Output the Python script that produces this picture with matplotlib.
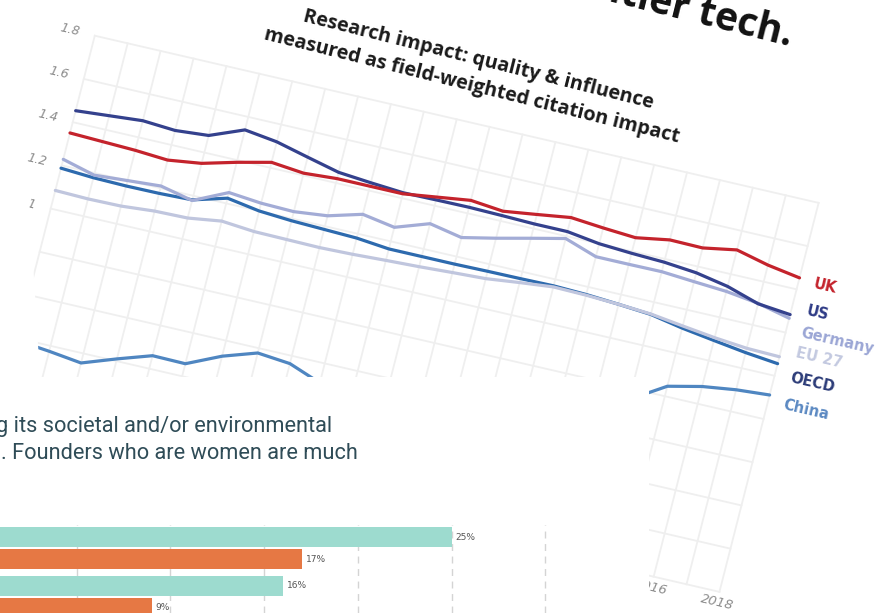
import matplotlib
matplotlib.use("Agg")
import matplotlib.pyplot as plt
import numpy as np
from matplotlib.transforms import Affine2D, IdentityTransform
from matplotlib.patches import Polygon

W, H = 884, 613

# research impact, field-weighted citation impact
years = list(range(1996, 2019))
uk = [1.35, 1.345, 1.34, 1.33, 1.35, 1.39, 1.425, 1.41, 1.42, 1.42, 1.42, 1.44,
      1.46, 1.445, 1.465, 1.486, 1.473, 1.463, 1.488, 1.486, 1.512, 1.477, 1.453]
us = [1.453, 1.465, 1.477, 1.467, 1.479, 1.54, 1.52, 1.484, 1.449, 1.436, 1.425, 1.427,
      1.428, 1.425, 1.421, 1.421, 1.40, 1.391, 1.385, 1.371, 1.343, 1.298, 1.283]
germany = [1.228, 1.19, 1.20, 1.21, 1.178, 1.25, 1.236, 1.232, 1.248, 1.29, 1.265, 1.317,
           1.288, 1.32, 1.355, 1.389, 1.34, 1.34, 1.341, 1.33, 1.32, 1.30, 1.266]
eu27 = [1.084, 1.08, 1.082, 1.094, 1.097, 1.118, 1.105, 1.103, 1.101, 1.105, 1.112, 1.118,
        1.126, 1.133, 1.15, 1.165, 1.162, 1.155, 1.145, 1.125, 1.106, 1.092, 1.088]
oecd = [1.187, 1.178, 1.175, 1.176, 1.181, 1.224, 1.20, 1.19, 1.185, 1.18, 1.165, 1.165,
        1.165, 1.167, 1.168, 1.17, 1.165, 1.155, 1.143, 1.115, 1.093, 1.072, 1.056]
china = [0.39, 0.375, 0.356, 0.41, 0.46, 0.458, 0.528, 0.578, 0.564, 0.51, 0.53, 0.555,
         0.58, 0.61, 0.64, 0.67, 0.70, 0.73, 0.75, 0.846, 0.88, 0.90, 0.911]

names = ["China", "OECD", "EU 27", "Germany", "US", "UK"]
values = [china, oecd, eu27, germany, us, uk]
line_colors = ["#4f86c1", "#2d6aae", "#c0c6de", "#a3acd6", "#34418d", "#c4232c"]
label_colors = ["#5b89c2", "#2c3c78", "#c3c9e0", "#9ba6d5", "#2e3b86", "#c4232c"]
label_vals = [0.882, 1.008, 1.122, 1.215, 1.316, 1.44]

grid_vals = [0, 0.2, 0.4, 0.6, 0.8, 1.0, 1.2, 1.4, 1.6, 1.8]
# only these tick labels are visible in the photo
y_label_vals = [1.0, 1.2, 1.4, 1.6, 1.8]
y_label_text = ["1", "1.2", "1.4", "1.6", "1.8"]
x_label_years = [2016, 2018]

# founders bar chart (only partly visible)
bar_rows = ["row 1", "row 2"]
teal_pct = [25, 16]
orange_pct = [17, 9]
grid_pct = [5, 10, 15, 20, 25, 30]

fig = plt.figure(figsize=(W / 100, H / 100), dpi=100)

# line chart, drawn skewed like the photographed slide
ax = fig.add_axes([0, 0, 1, 1])
ax.axis("off")
sx, sy = 33.77, 223.0          # px per year / px per unit
M = np.array([[0.9743, 0.2471, 50.7],
              [-0.2250, 0.9691, H - 208.6],
              [0, 0, 1]])
tr = ax.transData + Affine2D(M)

grid_c = "#efefef"
for v in grid_vals:
    ax.plot([years[0], years[-1]], [v, v], color=grid_c, lw=1.3, transform=tr, zorder=1)
for yr in years:
    ax.plot([yr, yr], [grid_vals[0], grid_vals[-1]], color=grid_c, lw=1.3, transform=tr, zorder=1)

for v, t in zip(y_label_vals, y_label_text):
    ax.text(years[0] - 0.47, v, t, transform=tr, ha="right", va="center",
            rotation=-13, rotation_mode="anchor", fontsize=9, color="#8c8c8c",
            style="italic", zorder=2)
for yr in x_label_years:
    ax.text(yr, -0.05, str(yr), transform=tr, ha="center", va="center",
            rotation=-13, rotation_mode="anchor", fontsize=9.5, color="#8c8c8c",
            style="italic", zorder=2)

for name, vals, c, lc, lv in zip(names, values, line_colors, label_colors, label_vals):
    ax.plot(years, vals, color=c, lw=2.3, transform=tr, zorder=3,
            solid_capstyle="round", solid_joinstyle="round")
    ax.text(years[-1] + 0.45, lv, name, transform=tr, ha="left", va="center",
            rotation=-13, rotation_mode="anchor", fontsize=10.5,
            fontweight="bold", color=lc, zorder=4)

ax.text(475, H - 73, "Research impact: quality & influence\nmeasured as field-weighted citation impact",
        transform=IdentityTransform(), ha="center", va="center", multialignment="center",
        rotation=-14, rotation_mode="anchor", fontsize=14.2, fontweight="bold",
        family=["Open Sans", "DejaVu Sans"], color="#1a1a1a", linespacing=1.45, zorder=4)
ax.text(790, H - 46, "frontier tech.", transform=IdentityTransform(), ha="right",
        va="baseline", rotation=-14, rotation_mode="anchor", fontsize=28,
        fontweight="bold", family=["Open Sans", "DejaVu Sans"], color="#111111", zorder=4)

# left edge of the photographed slide
ax.add_patch(Polygon([(0, H), (18, H), (28, H - 180), (40, H - 377), (0, H - 377)],
                     closed=True, transform=IdentityTransform(), facecolor="white",
                     edgecolor="none", zorder=6))

ax.set_xlim(years[0], years[0] + W / sx)
ax.set_ylim(1.0, 1.0 + H / sy)

# white panel with the bar chart
pw, ph = 649, 236
axp = fig.add_axes([0, 0, pw / W, ph / H])
axp.set_zorder(5)
axp.set_facecolor("white")
axp.set_xticks([])
axp.set_yticks([])
for s in axp.spines.values():
    s.set_visible(False)
txt_c = "#2f4c57"
axp.text(-4 / pw, 1 - (432 - 377) / ph, "g its societal and/or environmental",
         transform=axp.transAxes, ha="left", va="baseline", fontsize=15.7,
         family=["Roboto", "DejaVu Sans"], color=txt_c)
axp.text(1 / pw, 1 - (459 - 377) / ph, ". Founders who are women are much",
         transform=axp.transAxes, ha="left", va="baseline", fontsize=15.7,
         family=["Roboto", "DejaVu Sans"], color=txt_c)

bh = 88
axb = fig.add_axes([0, 0, pw / W, bh / H])
axb.set_zorder(6)
axb.patch.set_alpha(0)
px_pct = 18.75
zero_px = -17
axb.set_xlim(-zero_px / px_pct, (pw - zero_px) / px_pct)
pitch = 49.0
top = -23 / pitch
axb.set_ylim(top + bh / pitch, top)
pos = np.arange(len(bar_rows))
off, hgt = 11 / pitch, 20 / pitch
axb.barh(pos - off, teal_pct, height=hgt, color="#9ddbcf", zorder=2)
axb.barh(pos + off, orange_pct, height=hgt, color="#e67844", zorder=2)
for p, tv, ov in zip(pos, teal_pct, orange_pct):
    axb.text(tv + 0.2, p - off, f"{tv}%", va="center", ha="left", fontsize=6.5, color="#555555")
    axb.text(ov + 0.2, p + off, f"{ov}%", va="center", ha="left", fontsize=6.5, color="#555555")
axb.set_xticks(grid_pct)
axb.set_yticks([])
axb.tick_params(length=0, labelbottom=False)
axb.grid(axis="x", color="#d4d4d4", linestyle=(0, (5, 4)), lw=1, zorder=0)
axb.set_axisbelow(True)
for s in axb.spines.values():
    s.set_visible(False)

fig.savefig("out.png", dpi=100)
